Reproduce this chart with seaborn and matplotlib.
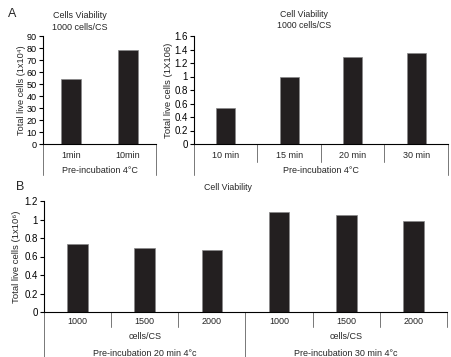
import matplotlib
matplotlib.use("Agg")
import matplotlib.pyplot as plt
import seaborn as sns
import pandas as pd

sns.set_theme(style="white")
plt.rcParams['font.family'] = ['Liberation Sans', 'DejaVu Sans']

# ---- data ----
a1_cats = ["1min", "10min"]
a1_vals = [54, 78]
a2_cats = ["10 min", "15 min", "20 min", "30 min"]
a2_vals = [0.53, 0.99, 1.29, 1.35]
b_cats = ["1000", "1500", "2000", "1000 ", "1500 ", "2000 "]
b_labels = ["1000", "1500", "2000", "1000", "1500", "2000"]
b_vals = [0.73, 0.69, 0.67, 1.08, 1.045, 0.98]
b_groups = ["Pre-incubation 20 min 4°c", "Pre-incubation 30 min 4°c"]

W, H = 452, 357
fig = plt.figure(figsize=(W / 100, H / 100), dpi=100)

def px_axes(l, t, r, b):
    return fig.add_axes([l / W, 1 - b / H, (r - l) / W, (b - t) / H])

def ftext(x, y, s, **kw):
    fig.text(x / W, 1 - y / H, s, **kw)

BAR = "#231f20"
LINE = "#777777"
FS = 7

def style(ax, ylim, yticks, yticklabels, fs=FS):
    ax.set_ylim(*ylim)
    ax.set_yticks(yticks)
    ax.set_yticklabels(yticklabels, fontsize=fs)
    ax.set_xticks([])
    ax.set_xlabel("")
    for s in ["top", "right"]:
        ax.spines[s].set_visible(False)
    for s in ["left", "bottom"]:
        ax.spines[s].set_color("black")
        ax.spines[s].set_linewidth(0.8)
    ax.tick_params(axis="y", left=True, direction="out", length=3, width=0.8,
                   colors="black", pad=1.5)

def vline(ax, x, y0, y1):
    ax.plot([x, x], [y0, y1], color=LINE, lw=0.7, transform=ax.get_xaxis_transform(),
            clip_on=False)

# ---- Panel A1 ----
ax1 = px_axes(43, 36, 156, 144)
sns.barplot(x=a1_cats, y=a1_vals, color=BAR, width=0.35, ax=ax1,
            edgecolor="#888888", linewidth=0.5, saturation=1)
ax1.set_xlim(-0.5, 1.5)
style(ax1, (0, 90), range(0, 91, 10), [str(v) for v in range(0, 91, 10)], fs=6.6)
ah = 108
for i, c in enumerate(a1_cats):
    ax1.text(i, -11 / ah, c, transform=ax1.get_xaxis_transform(), ha="center", va="center", fontsize=6.5)
ax1.text(0.5, -26.5 / ah, "Pre-incubation 4°C", transform=ax1.get_xaxis_transform(),
         ha="center", va="center", fontsize=6.5)
vline(ax1, -0.5, 0, -31 / ah)
vline(ax1, 1.5, 0, -31 / ah)
ax1.set_ylabel("Total live cells (1x10⁴)", fontsize=6.6)
ax1.yaxis.set_label_coords(-0.15, 0.5)

# ---- Panel A2 ----
ax2 = px_axes(194, 36, 448, 144)
sns.barplot(x=a2_cats, y=a2_vals, color=BAR, width=0.3, ax=ax2,
            edgecolor="#888888", linewidth=0.5, saturation=1)
ax2.set_xlim(-0.5, 3.5)
t2 = [0, 0.2, 0.4, 0.6, 0.8, 1.0, 1.2, 1.4, 1.6]
style(ax2, (0, 1.6), t2, ["0", "0.2", "0.4", "0.6", "0.8", "1", "1.2", "1.4", "1.6"])
for i, c in enumerate(a2_cats):
    ax2.text(i, -11 / ah, c, transform=ax2.get_xaxis_transform(), ha="center", va="center", fontsize=6.5)
ax2.text(1.5, -26.5 / ah, "Pre-incubation 4°C", transform=ax2.get_xaxis_transform(),
         ha="center", va="center", fontsize=6.5)
vline(ax2, -0.5, 0, -31 / ah)
vline(ax2, 3.5, 0, -31 / ah)
for k in [0.5, 1.5, 2.5]:
    vline(ax2, k, 0, -18 / ah)
ax2.set_ylabel("Total live cells (1X106)", fontsize=6.8)
ax2.yaxis.set_label_coords(-0.083, 0.5)

# ---- Panel B ----
ax3 = px_axes(44, 201, 447, 312)
sns.barplot(x=b_cats, y=b_vals, color=BAR, width=0.31, ax=ax3,
            edgecolor="#888888", linewidth=0.5, saturation=1)
ax3.set_xlim(-0.5, 5.5)
t3 = [0, 0.2, 0.4, 0.6, 0.8, 1.0, 1.2]
style(ax3, (0, 1.2), t3, ["0", "0.2", "0.4", "0.6", "0.8", "1", "1.2"])
bh = 111
for i, c in enumerate(b_labels):
    ax3.text(i, -10 / bh, c, transform=ax3.get_xaxis_transform(), ha="center", va="center", fontsize=6.5)
for g, name in enumerate(b_groups):
    ax3.text(g * 3 + 1, -24.5 / bh, "cells/CS", transform=ax3.get_xaxis_transform(),
             ha="center", va="center", fontsize=6.5)
    ax3.text(g * 3 + 1, -41 / bh, name, transform=ax3.get_xaxis_transform(),
             ha="center", va="center", fontsize=6.5)
for k in [0.5, 1.5, 3.5, 4.5]:
    vline(ax3, k, 0, -15 / bh)
vline(ax3, 5.5, 0, -15 / bh)
for k in [-0.5, 2.5]:
    vline(ax3, k, 0, -46 / bh)
ax3.set_ylabel("Total live cells (1x10⁶)", fontsize=6.8)
ax3.yaxis.set_label_coords(-0.057, 0.5)

# ---- titles & panel letters ----
ftext(80, 16, "Cells Viability", ha="center", va="center", fontsize=6.5)
ftext(80, 27, "1000 cells/CS", ha="center", va="center", fontsize=6.5)
ftext(304, 14.5, "Cell Viability", ha="center", va="center", fontsize=6.3)
ftext(304, 25, "1000 cells/CS", ha="center", va="center", fontsize=6.3)
ftext(228, 188, "Cell Viability", ha="center", va="center", fontsize=6.3)
ftext(12, 14, "A", ha="center", va="center", fontsize=9)
ftext(20, 187, "B", ha="center", va="center", fontsize=9)

fig.savefig("out.png", dpi=100)
